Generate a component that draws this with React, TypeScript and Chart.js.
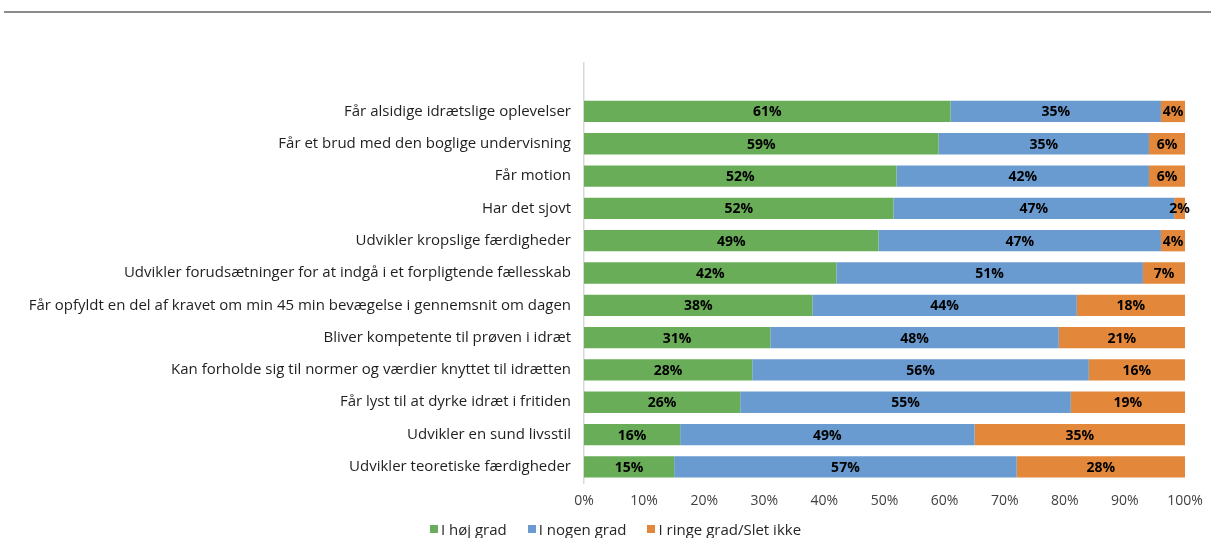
import React, { useEffect, useRef } from "react";
import { Chart, registerables } from "chart.js";

Chart.register(...registerables);

const categories = [
  "Får alsidige idrætslige oplevelser",
  "Får et brud med den boglige undervisning",
  "Får motion",
  "Har det sjovt",
  "Udvikler kropslige færdigheder",
  "Udvikler forudsætninger for at indgå i et forpligtende fællesskab",
  "Får opfyldt en del af kravet om min 45 min bevægelse i gennemsnit om dagen",
  "Bliver kompetente til prøven i idræt",
  "Kan forholde sig til normer og værdier knyttet til idrætten",
  "Får lyst til at dyrke idræt i fritiden",
  "Udvikler en sund livsstil",
  "Udvikler teoretiske færdigheder",
];

const hoejGrad = [61, 59, 52, 51.5, 49, 42, 38, 31, 28, 26, 16, 15];
const nogenGrad = [35, 35, 42, 46.7, 47, 51, 44, 48, 56, 55, 49, 57];
const ringeGrad = [4, 6, 6, 1.8, 4, 7, 18, 21, 16, 19, 35, 28];

const xTicks = [0, 10, 20, 30, 40, 50, 60, 70, 80, 90, 100];

const seriesNames = ["I høj grad", "I nogen grad", "I ringe grad/Slet ikke"];
const seriesColors = ["#6AAD59", "#6A9BD0", "#E3873A"];

const FONT = "'Open Sans', sans-serif";

const valueLabels = {
  id: "valueLabels",
  afterDatasetsDraw(chart: any) {
    const ctx = chart.ctx;
    ctx.save();
    ctx.font = `bold 14px ${FONT}`;
    ctx.fillStyle = "#000000";
    ctx.textAlign = "center";
    ctx.textBaseline = "middle";
    chart.data.datasets.forEach((ds: any, di: number) => {
      const meta = chart.getDatasetMeta(di);
      meta.data.forEach((el: any, i: number) => {
        const v = ds.data[i];
        if (v === null || v === undefined) return;
        const x = (el.x + el.base) / 2;
        ctx.fillText(Math.round(v) + "%", x, el.y + 1);
      });
    });
    ctx.restore();
  },
};

export default function App() {
  const canvasRef = useRef<HTMLCanvasElement | null>(null);

  useEffect(() => {
    document.body.style.margin = "0";
    const labels = ["", ...categories];
    const series = [hoejGrad, nogenGrad, ringeGrad];
    const chart = new Chart(canvasRef.current as HTMLCanvasElement, {
      type: "bar",
      data: {
        labels,
        datasets: series.map((s, i) => ({
          label: seriesNames[i],
          data: [null, ...s],
          backgroundColor: seriesColors[i],
          borderWidth: 0,
          barPercentage: 0.66,
          categoryPercentage: 1,
        })),
      },
      options: {
        indexAxis: "y",
        animation: false,
        responsive: false,
        maintainAspectRatio: false,
        layout: { padding: { left: 4, right: 26, top: 63, bottom: 33 } },
        plugins: {
          tooltip: { enabled: false },
          legend: { display: false },
        },
        scales: {
          x: {
            stacked: true,
            min: 0,
            max: 100,
            afterBuildTicks(scale: any) {
              scale.ticks = xTicks.map((v) => ({ value: v }));
            },
            afterFit(scale: any) {
              scale.height = 22;
              scale.paddingLeft = 0;
              scale.paddingRight = 0;
            },
            grid: { display: false, drawTicks: false },
            border: { display: false },
            ticks: {
              padding: 10,
              color: "#404040",
              font: { family: FONT, size: 14 },
              callback: (v: any) => v + "%",
            },
          },
          y: {
            stacked: true,
            afterFit(scale: any) {
              scale.width = 584 - 4;
            },
            grid: { display: false, drawTicks: false },
            border: { display: true, color: "#D9D9D9", width: 1.5 },
            ticks: {
              padding: 13,
              autoSkip: false,
              color: "#1F1F1F",
              font: { family: FONT, size: 15 },
            },
          },
        },
      } as any,
      plugins: [valueLabels],
    });
    return () => chart.destroy();
  }, []);

  return (
    <div style={{ position: "relative", width: 1211, height: 538, background: "#fff" }}>
      <div
        style={{
          position: "absolute",
          top: 11,
          left: 4,
          width: 1207,
          height: 2,
          background: "#8C8C8C",
        }}
      />
      <canvas ref={canvasRef} width={1211} height={538} style={{ display: "block" }} />
      <div
        style={{
          position: "absolute",
          top: 519,
          left: 20,
          width: 1191,
          height: 20,
          display: "flex",
          justifyContent: "center",
          alignItems: "center",
          gap: 21,
          fontFamily: FONT,
          fontSize: 15,
          color: "#262626",
          lineHeight: "20px",
        }}
      >
        {seriesNames.map((n, i) => (
          <div key={n} style={{ display: "flex", alignItems: "center", gap: 3 }}>
            <span style={{ display: "inline-block", width: 8, height: 8, background: seriesColors[i] }} />
            <span style={{ whiteSpace: "nowrap" }}>{n}</span>
          </div>
        ))}
      </div>
    </div>
  );
}
